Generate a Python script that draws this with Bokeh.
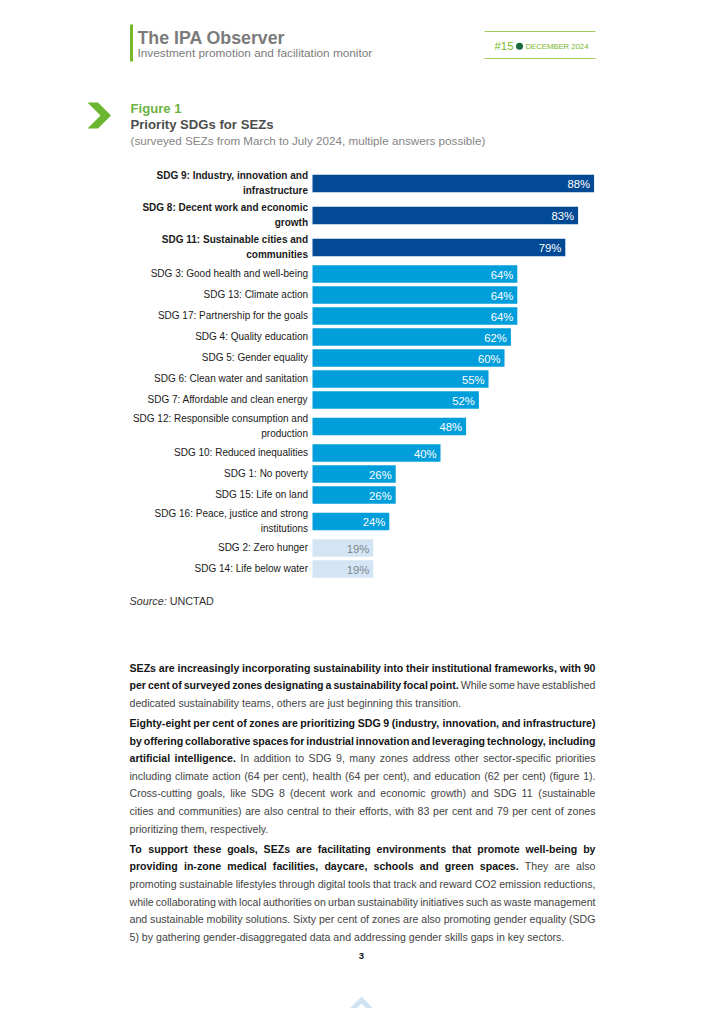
import textwrap
from bokeh.plotting import figure
from bokeh.models import Range1d, ColumnDataSource
from bokeh.core.properties import value
from bokeh.embed import file_html
from bokeh.resources import INLINE

# ---------------- data ----------------
categories = [
    "SDG 9: Industry, innovation and infrastructure",
    "SDG 8: Decent work and economic growth",
    "SDG 11: Sustainable cities and communities",
    "SDG 3: Good health and well-being",
    "SDG 13: Climate action",
    "SDG 17: Partnership for the goals",
    "SDG 4: Quality education",
    "SDG 5: Gender equality",
    "SDG 6: Clean water and sanitation",
    "SDG 7: Affordable and clean energy",
    "SDG 12: Responsible consumption and production",
    "SDG 10: Reduced inequalities",
    "SDG 1: No poverty",
    "SDG 15: Life on land",
    "SDG 16: Peace, justice and strong institutions",
    "SDG 2: Zero hunger",
    "SDG 14: Life below water",
]
shares = [88, 83, 79, 64, 64, 64, 62, 60, 55, 52, 48, 40, 26, 26, 24, 19, 19]

header_title = "The IPA Observer"
header_sub = "Investment promotion and facilitation monitor"
issue_no = "#15"
issue_date = "DECEMBER 2024"
fig_label = "Figure 1"
fig_title = "Priority SDGs for SEZs"
fig_sub = "(surveyed SEZs from March to July 2024, multiple answers possible)"
source_lbl = "Source:"
source_txt = "UNCTAD"
page_no = "3"

para1 = [
    [(True, "SEZs are increasingly incorporating sustainability into their institutional frameworks, with 90")],
    [(True, "per cent of surveyed zones designating a sustainability focal point."), (False, "While some have established")],
    [(False, "dedicated sustainability teams, others are just beginning this transition.")],
]
para2 = [
    [(True, "Eighty-eight per cent of zones are prioritizing SDG 9 (industry, innovation, and infrastructure)")],
    [(True, "by offering collaborative spaces for industrial innovation and leveraging technology, including")],
    [(True, "artificial intelligence."), (False, "In addition to SDG 9, many zones address other sector-specific priorities")],
    [(False, "including climate action (64 per cent), health (64 per cent), and education (62 per cent) (figure 1).")],
    [(False, "Cross-cutting goals, like SDG 8 (decent work and economic growth) and SDG 11 (sustainable")],
    [(False, "cities and communities) are also central to their efforts, with 83 per cent and 79 per cent of zones")],
    [(False, "prioritizing them, respectively.")],
]
para3 = [
    [(True, "To support these goals, SEZs are facilitating environments that promote well-being by")],
    [(True, "providing in-zone medical facilities, daycare, schools and green spaces."), (False, "They are also")],
    [(False, "promoting sustainable lifestyles through digital tools that track and reward CO2 emission reductions,")],
    [(False, "while collaborating with local authorities on urban sustainability initiatives such as waste management")],
    [(False, "and sustainable mobility solutions. Sixty per cent of zones are also promoting gender equality (SDG")],
    [(False, "5) by gathering gender-disaggregated data and addressing gender skills gaps in key sectors.")],
]
paragraphs = [para1, para2, para3]

# ---------------- font metrics (Arial / Liberation Sans, per 1000 em) ----------------
REG_W = {' ': 278, '!': 278, '"': 355, '#': 556, '$': 556, '%': 889, '&': 667, "'": 191,
         '(': 333, ')': 333, '*': 389, '+': 584, ',': 278, '-': 333, '.': 278, '/': 278,
         ':': 278, ';': 278, '?': 556,
         'A': 667, 'B': 667, 'C': 722, 'D': 722, 'E': 667, 'F': 611, 'G': 778, 'H': 722,
         'I': 278, 'J': 500, 'K': 667, 'L': 556, 'M': 833, 'N': 722, 'O': 778, 'P': 667,
         'Q': 778, 'R': 722, 'S': 667, 'T': 611, 'U': 722, 'V': 667, 'W': 944, 'X': 667,
         'Y': 667, 'Z': 611,
         'a': 556, 'b': 556, 'c': 500, 'd': 556, 'e': 556, 'f': 278, 'g': 556, 'h': 556,
         'i': 222, 'j': 222, 'k': 500, 'l': 222, 'm': 833, 'n': 556, 'o': 556, 'p': 556,
         'q': 556, 'r': 333, 's': 500, 't': 278, 'u': 556, 'v': 500, 'w': 722, 'x': 500,
         'y': 500, 'z': 500}
BOLD_W = {' ': 278, '!': 333, '#': 556, '%': 889, '(': 333, ')': 333, ',': 278, '-': 333,
          '.': 278, '/': 278, ':': 333, ';': 333, '?': 611,
          'A': 722, 'B': 722, 'C': 722, 'D': 722, 'E': 667, 'F': 611, 'G': 778, 'H': 722,
          'I': 278, 'J': 556, 'K': 722, 'L': 611, 'M': 833, 'N': 722, 'O': 778, 'P': 667,
          'Q': 778, 'R': 722, 'S': 667, 'T': 611, 'U': 722, 'V': 667, 'W': 944, 'X': 667,
          'Y': 667, 'Z': 611,
          'a': 556, 'b': 611, 'c': 556, 'd': 611, 'e': 556, 'f': 333, 'g': 611, 'h': 611,
          'i': 278, 'j': 278, 'k': 556, 'l': 278, 'm': 889, 'n': 611, 'o': 611, 'p': 611,
          'q': 611, 'r': 389, 's': 556, 't': 333, 'u': 611, 'v': 556, 'w': 778, 'x': 556,
          'y': 556, 'z': 500}
for d in "0123456789":
    REG_W[d] = 556
    BOLD_W[d] = 556


def em(s, bold=False):
    t = BOLD_W if bold else REG_W
    return sum(t.get(ch, 556) for ch in s) / 1000.0


# ---------------- styles ----------------
SANS = "Liberation Sans"
GREEN = "#78b82a"
DARK_GREEN = "#17693a"
GREY = "#7b7b7b"
DARK_BLUE = "#034a96"
MID_BLUE = "#009edb"
LIGHT_BLUE = "#d3e5f5"

p = figure(width=708, height=1008,
           x_range=Range1d(-97.5, 123.75), y_range=Range1d(1008, 0),
           x_axis_location=None, y_axis_location=None,
           output_backend="svg", toolbar_location=None,
           min_border=0, outline_line_color=None,
           background_fill_color="white", border_fill_color="white")
p.xgrid.visible = False
p.ygrid.visible = False
p.extra_x_ranges = {"page": Range1d(0, 708)}


def txt(x, y, s, size, color, style="normal", font=SANS, align="left", baseline="middle"):
    p.text(x=[x], y=[y], text=[s], x_range_name="page",
           text_font=value(font), text_font_size=f"{size:.2f}px", text_font_style=style,
           text_color=color, text_align=align, text_baseline=baseline)


# ---------------- header ----------------
p.quad(left=[129.5], right=[132.5], top=[24], bottom=[61], x_range_name="page",
       fill_color=GREEN, line_color=None)
txt(137, 37.5, header_title, 149 / em(header_title, True), GREY, "bold")
txt(137, 52.5, header_sub, 235 / em(header_sub), GREY)

p.segment(x0=[484, 484], x1=[595, 595], y0=[31, 58], y1=[31, 58], x_range_name="page",
          line_color="#9ccc5c", line_width=1.2)
txt(494, 45.5, issue_no, 19 / em(issue_no), GREEN)
p.scatter(x=[519], y=[45.8], size=7, x_range_name="page", fill_color=DARK_GREEN, line_color=None)
txt(525, 46, issue_date, 63 / em(issue_date), GREEN)

# ---------------- figure heading ----------------
p.patch(x=[87, 97.5, 110.5, 97.5, 87, 100], y=[102, 102, 115, 128, 128, 115],
        x_range_name="page", fill_color="#6cb52e", line_color=None)
txt(130, 107.5, fig_label, 51 / em(fig_label, True), "#6cb33f", "bold")
txt(130, 123.5, fig_title, 143 / em(fig_title, True), "#4d4d4d", "bold")
txt(130, 140, fig_sub, 355 / em(fig_sub), "#858585")

# ---------------- bar chart ----------------
wrapped = ["\n".join(textwrap.wrap(c, 35)) for c in categories]
row_h = [21 if "\n" not in w else 32 for w in wrapped]
yc = []
top = 167
for h in row_h:
    yc.append(top + h / 2)
    top += h

tier = ["top" if v >= 75 else ("mid" if v >= 20 else "low") for v in shares]
bar_col = [{"top": DARK_BLUE, "mid": MID_BLUE, "low": LIGHT_BLUE}[t] for t in tier]
val_col = ["#ffffff" if t != "low" else "#7d858c" for t in tier]
lab_style = ["bold" if t == "top" else "normal" for t in tier]

src = ColumnDataSource(dict(cat=wrapped, share=shares, yc=yc, color=bar_col,
                            vcol=val_col, fstyle=lab_style,
                            vlabel=[f"{v}%" for v in shares]))

p.hbar(y="yc", left=0, right="share", height=17.5, source=src,
       fill_color="color", line_color=None)
p.text(x="share", y="yc", text="vlabel", source=src, x_offset=-4, y_offset=0.5,
       text_align="right", text_baseline="middle", text_color="vcol",
       text_font=value(SANS), text_font_size="11.3px")
p.text(x=307.5, y="yc", text="cat", source=src, x_range_name="page", y_offset=-0.5,
       text_align="right", text_baseline="middle", text_color="#1a1a1a",
       text_font=value(SANS), text_font_size="10px", text_font_style="fstyle",
       text_line_height=1.4)

# ---------------- source ----------------
SRC_FS = 10.8
txt(129, 600, source_lbl, SRC_FS, "#333333", "italic")
txt(129 + em(source_lbl + " ") * SRC_FS, 600, source_txt, SRC_FS, "#333333")

# ---------------- body text (justified) ----------------
LEFT, RIGHT = 129.0, 595.0
WIDTH = RIGHT - LEFT
SP = REG_W[' '] / 1000.0
FS = 10.6
LINE = 17.6
PARA_GAP = 20.2


def words_of(line):
    return [(b, w) for b, seg in line for w in seg.split()]


bx, by, bt, rx, ry, rt = [], [], [], [], [], []
ypos = 667.0
for para in paragraphs:
    for i, line in enumerate(para):
        ws = words_of(line)
        wsum = sum(em(w, b) for b, w in ws) * FS
        last = (i == len(para) - 1)
        gap = SP * FS if last else max((WIDTH - wsum) / (len(ws) - 1), 0.12 * FS)
        x = LEFT
        for b, w in ws:
            if b:
                bx.append(x); by.append(ypos); bt.append(w)
            else:
                rx.append(x); ry.append(ypos); rt.append(w)
            x += em(w, b) * FS + gap
        ypos += LINE if not last else PARA_GAP

p.text(x=bx, y=by, text=bt, x_range_name="page", text_font=value(SANS),
       text_font_size=f"{FS:.2f}px", text_font_style="bold", text_color="#151515",
       text_align="left", text_baseline="middle")
p.text(x=rx, y=ry, text=rt, x_range_name="page", text_font=value(SANS),
       text_font_size=f"{FS:.2f}px", text_color="#444444",
       text_align="left", text_baseline="middle")

# ---------------- footer ----------------
txt(361, 955, page_no, 9.5, "#111111", "bold", align="center")
for dy in (0, 12):
    p.patch(x=[350, 361, 372, 372, 361, 350],
            y=[1007 + dy, 996 + dy, 1007 + dy, 1014 + dy, 1003 + dy, 1014 + dy],
            x_range_name="page", fill_color="#d0e3f3", line_color=None)

open("out.html", "w").write(file_html(p, INLINE))
